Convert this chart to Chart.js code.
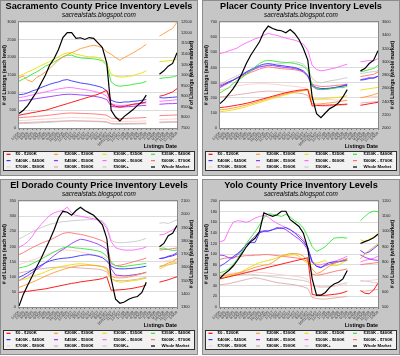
<!DOCTYPE html>
<html><head><meta charset="utf-8">
<script src="https://cdn.jsdelivr.net/npm/chart.js@4.4.0/dist/chart.umd.min.js"></script>
<style>
html,body{margin:0;padding:0;background:#ffffff;}
body{width:400px;height:356px;position:relative;overflow:hidden;}
.panel{position:absolute;width:198px;height:176px;box-sizing:border-box;border:1px solid #8c8c8c;background:#c6c6c6;}
.panel canvas{position:absolute;left:0;top:0;}
</style></head><body>
<div class="panel" style="left:0px;top:0px"><canvas id="c0" width="196" height="174"></canvas></div>
<div class="panel" style="left:202px;top:0px"><canvas id="c1" width="196" height="174"></canvas></div>
<div class="panel" style="left:0px;top:179px"><canvas id="c2" width="196" height="174"></canvas></div>
<div class="panel" style="left:202px;top:179px"><canvas id="c3" width="196" height="174"></canvas></div>
<script>
// ---------------- DATA ----------------
const dateLabels = ["1/2/06","2/6/06","3/6/06","4/3/06","5/1/06","6/5/06","7/3/06","8/7/06","9/4/06","10/2/06","11/6/06","12/4/06","1/1/07","2/5/07","3/5/07","4/2/07","5/7/07","6/4/07","7/2/07","8/6/07","9/3/07","10/01/2007","11/5/07","12/3/07","1/7/08","2/4/08","3/3/08","4/7/08","5/5/08","6/2/08","7/7/08","8/4/08","9/1/08","10/6/08","11/3/08","12/1/08","1/5/09"];
const levelNames = ["$0 - $200K","$200K - $300K","$300K - $350K","$350K - $400K","$400K - $450K","$450K - $500K","$500K - $600K","$600K - $700K","$700K - $800K","$800K - $900K","$900K+","Whole Market"];
const _ = null;

// Sacramento County
const sac_0_200   = [359,388,407,435,454,482,501,539,577,615,653,690,728,766,804,842,880,918,955,1012,1069,672,615,596,615,643,672,690,710,738,_,_,899,927,974,1022,1116];
const sac_200_300 = [1430,1466,1353,1310,1430,1495,1590,1685,1807,1920,2015,2080,2130,2185,2250,2280,2318,2346,2318,2270,2157,2090,1996,1920,1996,2062,2130,2204,2280,2374,_,_,2601,2677,2753,2819,3000];
const sac_300_350 = [1466,1523,1589,1637,1703,1769,1826,1883,1949,2015,2090,2128,2138,2090,2062,2034,2015,2015,1996,1939,1826,1523,1466,1447,1447,1466,1485,1523,1561,1618,_,_,1873,1892,1901,1920,1958];
const sac_350_400 = [1324,1391,1447,1523,1589,1665,1750,1807,1873,1939,2015,2062,2062,2015,1987,1977,1968,1958,1939,1901,1778,1305,1211,1182,1201,1211,1239,1258,1277,1324,_,_,1400,1419,1428,1447,1485];
const sac_400_450 = [946,955,993,1050,1088,1145,1192,1239,1277,1305,1353,1372,1334,1305,1277,1258,1239,1211,1182,1145,1050,785,738,719,738,738,757,766,785,804,_,_,861,851,861,870,880];
const sac_450_500 = [766,776,795,814,832,851,870,889,908,927,946,955,955,946,936,927,918,899,880,851,804,615,596,587,596,606,615,625,634,643,_,_,672,681,690,690,700];
const sac_500_600 = [861,880,908,936,965,993,1022,1050,1078,1107,1126,1145,1145,1126,1107,1088,1069,1041,1012,974,899,690,653,634,643,653,672,681,690,710,_,_,757,766,776,785,804];
const sac_600_700 = [293,300,310,320,330,340,350,365,380,395,410,420,425,420,415,410,405,400,390,380,360,280,270,265,270,275,280,285,290,300,_,_,350,355,360,365,370];
const sac_700_800 = [210,215,222,230,238,245,252,260,268,275,282,290,295,292,290,287,284,280,275,268,255,190,185,182,185,188,190,193,196,200,_,_,240,245,248,252,258];
const sac_800_900 = [150,153,158,163,168,173,178,183,188,193,198,203,205,203,200,198,196,193,190,185,175,130,126,124,126,128,130,132,134,137,_,_,170,172,175,178,180];
const sac_900p    = [120,125,130,136,142,148,155,162,170,178,186,194,200,198,195,192,188,184,180,172,160,110,105,103,105,108,110,112,115,118,_,_,150,152,155,158,160];
const sac_whole   = [8180,8340,8570,8890,9200,9600,9990,10470,10780,11210,11770,12000,12000,11730,11760,11680,11770,11730,11520,11300,10550,8340,8020,7830,8050,8210,8370,8570,8730,9050,_,_,10040,10200,10420,10550,11050];

// Placer County
const pla_0_200   = [135,138,142,147,152,157,163,170,178,186,194,202,210,218,226,233,240,245,250,252,255,145,148,150,150,152,153,155,156,158,_,_,150,155,160,165,170];
const pla_200_300 = [120,123,127,132,138,145,152,160,168,177,186,195,203,211,219,226,232,238,243,248,252,160,158,160,163,166,170,174,178,183,_,_,200,205,212,220,230];
const pla_300_350 = [108,111,115,120,126,133,141,150,159,168,177,186,195,204,212,220,228,235,242,250,258,188,190,192,195,198,200,203,207,212,_,_,250,255,260,264,268];
const pla_350_400 = [232,250,267,294,316,333,355,378,404,426,442,448,444,439,435,433,431,426,420,408,382,283,261,254,254,258,263,267,267,276,_,_,371,378,386,393,415];
const pla_400_450 = [276,289,305,316,333,349,371,386,400,413,422,426,422,415,413,408,404,400,391,378,349,283,267,261,261,263,267,272,276,283,_,_,316,320,327,333,342];
const pla_450_500 = [267,283,298,316,333,349,364,378,391,404,408,415,413,408,404,400,397,393,386,371,342,276,258,254,258,261,265,272,280,289,_,_,320,325,333,327,342];
const pla_500_600 = [492,499,510,519,530,548,563,576,590,598,614,625,618,612,603,594,587,581,570,554,514,415,386,378,382,389,395,404,413,422,_,_,437,442,446,444,459];
const pla_600_700 = [285,295,305,318,330,342,355,368,378,390,398,405,400,396,392,390,388,385,380,370,345,290,280,275,275,277,280,283,286,290,_,_,340,345,350,355,370];
const pla_700_800 = [250,258,265,272,278,283,287,290,292,293,293,292,290,287,284,281,278,275,272,268,258,200,194,190,188,188,186,185,185,183,_,_,200,203,205,207,210];
const pla_800_900 = [205,208,212,216,220,224,228,232,236,240,242,244,243,241,239,237,235,233,230,225,215,160,150,145,145,146,148,150,152,155,_,_,165,168,170,172,175];
const pla_900p    = [294,305,320,333,347,360,371,382,393,404,411,415,420,424,426,431,435,437,433,422,393,327,305,298,305,311,316,320,327,333,_,_,360,364,369,373,378];
const pla_whole   = [2368,2429,2510,2596,2697,2823,2974,3100,3201,3302,3453,3539,3504,3479,3469,3438,3489,3428,3337,3201,3025,2469,2217,2156,2227,2293,2328,2379,2469,2580,_,_,2863,2898,2974,3025,3166];

// El Dorado County
const eld_0_200   = [48,50,52,54,56,58,60,63,66,69,72,75,78,80,83,85,87,89,91,94,100,55,56,57,58,60,62,65,68,73,_,_,82,86,90,95,100];
const eld_200_300 = [65,70,76,82,88,95,102,108,114,119,124,128,132,135,137,138,138,137,136,134,130,101,97,96,97,99,102,106,110,115,_,_,132,138,145,150,159];
const eld_300_350 = [88,91,95,100,105,110,116,122,127,131,135,138,140,142,143,142,140,138,136,133,124,93,85,82,83,85,87,89,92,95,_,_,126,133,140,145,150];
const eld_350_400 = [129,132,136,143,150,158,166,174,182,189,195,199,197,195,194,192,190,188,185,180,168,149,136,134,134,136,138,140,142,144,_,_,193,195,190,187,188];
const eld_400_450 = [98,105,113,122,130,138,146,152,156,159,161,162,164,167,170,172,173,171,168,163,152,135,128,126,126,127,128,130,132,135,_,_,160,162,166,169,175];
const eld_450_500 = [87,95,104,114,124,134,146,158,170,181,190,200,210,218,224,222,218,213,208,200,191,126,106,104,103,104,106,108,111,115,_,_,160,162,168,172,180];
const eld_500_600 = [197,205,216,233,255,272,288,303,311,316,319,330,311,302,300,297,294,292,288,281,260,216,196,191,188,188,188,191,193,199,_,_,238,240,247,255,266];
const eld_600_700 = [173,180,188,196,203,210,216,221,228,236,243,246,245,242,240,237,233,229,224,219,210,143,137,138,141,145,149,153,157,162,_,_,188,190,191,193,195];
const eld_700_800 = [140,145,150,155,160,166,172,178,183,186,188,188,187,185,182,179,176,173,170,167,160,108,104,102,102,104,106,108,110,113,_,_,149,151,154,156,160];
const eld_800_900 = [112,115,118,121,124,126,128,130,131,132,132,132,131,130,129,128,127,126,125,122,116,93,88,87,87,88,90,92,95,98,_,_,135,137,139,142,145];
const eld_900p    = [225,232,240,248,256,262,268,273,277,280,282,283,285,286,287,288,289,289,288,285,268,220,214,212,213,214,216,218,222,227,_,_,277,279,276,282,288];
const eld_whole   = [1308,1397,1466,1533,1602,1665,1737,1806,1883,1972,2023,2016,1993,2029,2054,2029,2011,1993,1959,1921,1819,1512,1359,1328,1338,1359,1372,1379,1410,1487,_,_,1755,1780,1839,1857,1916];

// Yolo County
const yol_0_200   = [53,55,57,59,61,63,65,67,69,71,73,75,77,79,81,83,85,87,89,91,93,24,22,22,22,23,24,25,27,30,_,_,31,26,25,32,45];
const yol_200_300 = [59,60,61,62,64,66,69,72,75,77,79,80,84,90,96,99,101,101,100,96,88,72,63,66,72,78,82,86,89,91,_,_,91,100,107,113,119];
const yol_300_350 = [53,56,58,60,63,67,72,76,80,84,86,88,90,93,96,97,98,99,96,88,82,80,83,85,88,80,78,79,84,88,_,_,127,124,128,132,139];
const yol_350_400 = [65,67,72,80,91,105,120,131,142,155,169,176,175,173,171,175,170,163,158,149,133,114,105,109,114,123,130,131,131,130,_,_,163,171,178,181,180];
const yol_400_450 = [77,82,88,95,101,108,118,122,122,140,143,143,146,150,148,150,146,140,132,124,112,86,77,74,80,84,85,86,87,88,_,_,107,101,104,110,117];
const yol_450_500 = [98,97,93,92,98,108,118,126,134,142,144,144,146,148,150,146,140,134,128,120,108,84,77,75,78,81,83,85,88,91,_,_,98,94,91,89,88];
const yol_500_600 = [123,126,145,160,163,162,160,163,168,171,173,170,163,158,154,150,146,141,136,128,112,86,80,80,82,84,86,89,92,96,_,_,85,88,90,92,96];
const yol_600_700 = [90,92,93,94,95,96,97,97,98,98,99,99,98,97,96,95,94,93,92,90,86,62,60,61,63,65,67,69,70,72,_,_,80,81,82,83,84];
const yol_700_800 = [62,63,64,64,65,65,66,66,66,65,65,64,63,62,61,60,59,58,57,55,52,40,38,37,37,38,39,40,41,42,_,_,48,49,50,51,52];
const yol_800_900 = [42,43,44,46,48,50,52,54,55,54,52,50,48,46,45,44,43,42,40,38,35,18,16,15,15,16,17,18,19,20,_,_,30,30,31,32,33];
const yol_900p    = [56,57,58,59,60,61,62,62,61,60,59,58,57,56,55,54,53,52,51,50,48,42,40,38,38,39,40,42,44,46,_,_,50,49,48,46,45];
const yol_whole   = [690,719,741,771,809,853,898,932,954,999,1122,1110,1099,1110,1133,1133,1077,1055,1032,988,887,686,578,578,596,630,652,663,686,741,_,_,920,932,943,958,981];

// ---------------- STYLE ----------------
const levelColors = ["#ff0000","#ff9933","#e6e000","#33e633","#3333ff","#9933ff","#ff66ff","#ff7070","#ffcccc","#e0a8a8","#c8c8c8","#000000"];
const FONT = '"Liberation Sans", Arial, sans-serif';

const decoPlugin = {
  id: 'deco',
  beforeDraw(chart) {
    const {ctx, chartArea: a} = chart;
    ctx.save();
    ctx.fillStyle = '#ffffff';
    ctx.fillRect(a.left, a.top, a.right - a.left, a.bottom - a.top);
    ctx.restore();
  },
  afterDraw(chart, args, opts) {
    const {ctx, chartArea: a} = chart;
    ctx.save();
    ctx.strokeStyle = '#8a8a8a'; ctx.lineWidth = 1;
    ctx.strokeRect(Math.round(a.left) - 0.5, Math.round(a.top) - 0.5, Math.round(a.right - a.left) + 1, Math.round(a.bottom - a.top) + 1);
    // right axis title (reads bottom to top)
    ctx.save();
    ctx.translate(opts.rightTitleX, (a.top + a.bottom) / 2);
    ctx.rotate(-Math.PI / 2);
    ctx.font = 'bold 5.2px ' + FONT;
    ctx.fillStyle = '#000'; ctx.textAlign = 'center'; ctx.textBaseline = 'middle';
    ctx.fillText('# of Listings (whole market)', 0, 0);
    ctx.restore();
    // legend box
    ctx.fillStyle = '#f2f2f2';
    ctx.fillRect(2, 150, 192, 20);
    ctx.strokeStyle = '#303030';
    ctx.strokeRect(2.5, 150.5, 191, 19);
    const mx = [5.5, 53, 101.5, 150];
    const tx = [14.5, 63.5, 112.5, 160.5];
    const ry = [153.3, 159.6, 166];
    ctx.font = 'bold 4.3px ' + FONT;
    ctx.textAlign = 'left'; ctx.textBaseline = 'middle';
    levelNames.forEach((name, k) => {
      const r = Math.floor(k / 4), c = k % 4;
      ctx.fillStyle = levelColors[k];
      ctx.fillRect(mx[c], ry[r] - 0.6, 4, 1.2);
      ctx.fillStyle = '#000';
      ctx.fillText(name, tx[c], ry[r]);
    });
    ctx.restore();
  }
};

function makeChart(id, title, series, left, right, geom) {
  const datasets = series.map((vals, k) => ({
    label: levelNames[k],
    data: vals,
    borderColor: levelColors[k],
    backgroundColor: levelColors[k],
    borderWidth: k === 11 ? 1.2 : 0.9,
    pointRadius: 0,
    spanGaps: false,
    tension: 0,
    yAxisID: k === 11 ? 'y2' : 'y',
    order: k === 11 ? 0 : 1
  }));
  return new Chart(document.getElementById(id), {
    type: 'line',
    data: { labels: dateLabels, datasets },
    options: {
      responsive: false, animation: false, devicePixelRatio: 1,
      events: [],
      layout: { padding: { top: 0, bottom: 26, left: 0, right: 0 } },
      plugins: {
        legend: { display: false },
        tooltip: { enabled: false },
        title: { display: true, text: title, color: '#000', font: { family: FONT, size: 9.2, weight: 'bold', lineHeight: 1 }, padding: { top: 0.5, bottom: 1.2 } },
        subtitle: { display: true, text: 'sacrealstats.blogspot.com', color: '#000', font: { family: FONT, size: 6.4, style: 'italic', lineHeight: 1 }, padding: { top: 0, bottom: 3.8 } },
        deco: { rightTitleX: geom.rtx }
      },
      scales: {
        x: {
          ticks: { font: { family: FONT, size: 3.7 }, color: '#333', minRotation: 45, maxRotation: 45, autoSkip: false, padding: 1 },
          grid: { drawOnChartArea: false, drawTicks: true, tickLength: 2, color: '#777' },
          border: { display: false },
          title: { display: true, text: 'Listings Date', align: 'end', color: '#000', font: { family: FONT, size: 5.3, weight: 'bold', lineHeight: 1 }, padding: 0 },
          afterFit: s => { s.height = 21; }
        },
        y: {
          position: 'left', min: left[0], max: left[1],
          ticks: { stepSize: left[2], font: { family: FONT, size: 3.9 }, color: '#222', padding: 3, callback: v => String(v) },
          grid: { color: '#dcdcdc', drawTicks: false },
          border: { display: false },
          title: { display: true, text: '# of Listings (each level)', color: '#000', font: { family: FONT, size: 5.2, weight: 'bold', lineHeight: 1 }, padding: { top: 1.2, bottom: 0 } },
          afterFit: s => { s.width = geom.lw; }
        },
        y2: {
          position: 'right', min: right[0], max: right[1],
          ticks: { stepSize: right[2], font: { family: FONT, size: 3.9 }, color: '#222', padding: 4, callback: v => String(v) },
          grid: { drawOnChartArea: false, drawTicks: false },
          border: { display: false },
          afterFit: s => { s.width = geom.rw; }
        }
      }
    },
    plugins: [decoPlugin]
  });
}

makeChart('c0', 'Sacramento County Price Inventory Levels',
  [sac_0_200, sac_200_300, sac_300_350, sac_350_400, sac_400_450, sac_450_500, sac_500_600, sac_600_700, sac_700_800, sac_800_900, sac_900p, sac_whole],
  [0, 3000, 500], [7500, 12500, 500], { lw: 18, rw: 20, rtx: 191 });
makeChart('c1', 'Placer County Price Inventory Levels',
  [pla_0_200, pla_200_300, pla_300_350, pla_350_400, pla_400_450, pla_450_500, pla_500_600, pla_600_700, pla_700_800, pla_800_900, pla_900p, pla_whole],
  [0, 700, 100], [2000, 3600, 200], { lw: 17, rw: 21, rtx: 190 });
makeChart('c2', 'El Dorado County Price Inventory Levels',
  [eld_0_200, eld_200_300, eld_300_350, eld_350_400, eld_400_450, eld_450_500, eld_500_600, eld_600_700, eld_700_800, eld_800_900, eld_900p, eld_whole],
  [0, 350, 50], [1300, 2100, 100], { lw: 18, rw: 20, rtx: 191 });
makeChart('c3', 'Yolo County Price Inventory Levels',
  [yol_0_200, yol_200_300, yol_300_350, yol_350_400, yol_400_450, yol_450_500, yol_500_600, yol_600_700, yol_700_800, yol_800_900, yol_900p, yol_whole],
  [0, 200, 20], [500, 1200, 100], { lw: 17, rw: 21, rtx: 190 });
</script>
</body></html>
